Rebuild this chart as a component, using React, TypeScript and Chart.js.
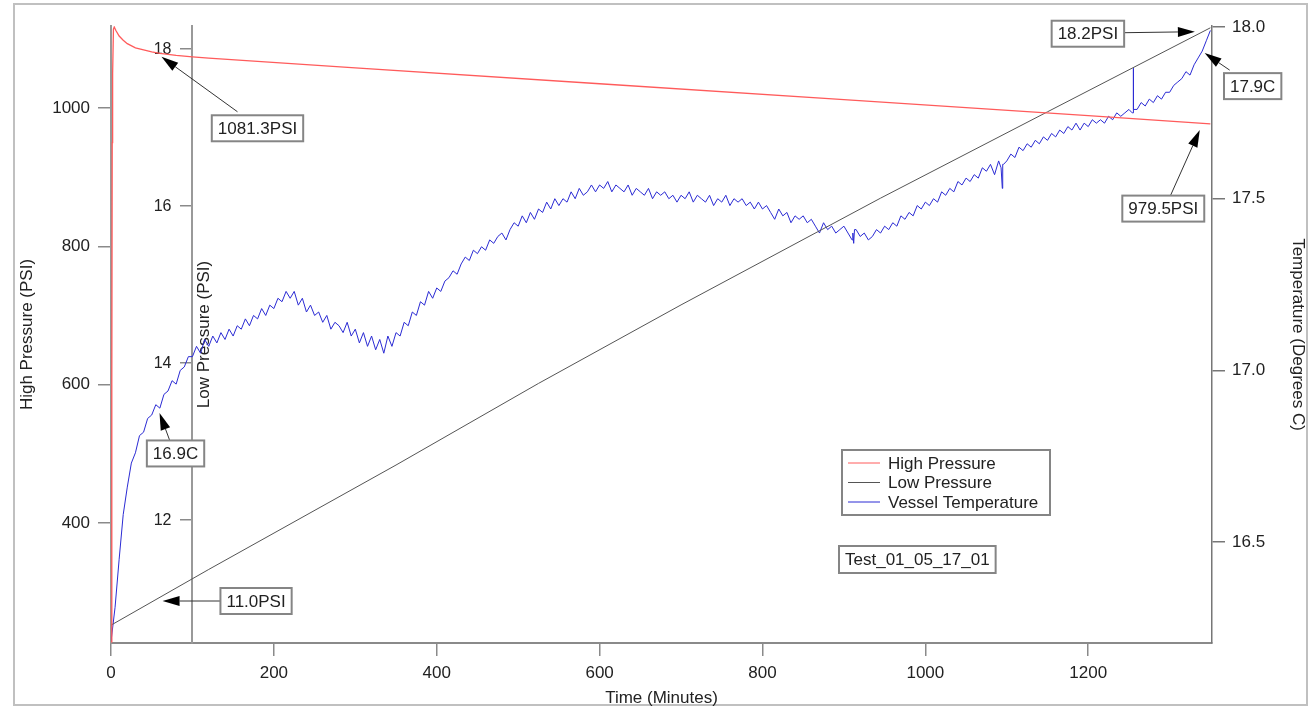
import React, { useEffect, useRef } from "react";
import { Chart, registerables } from "chart.js";

Chart.register(...registerables);

const FONT = '"Liberation Sans", Arial, Helvetica, sans-serif';

// ---- X axis (minutes)
const X_MIN = 0;
const X_MAX = 1352;
const X_STEP = 200;

// ---- High pressure (PSI), red
const highTimes = [0, 1, 1.5, 2, 3, 4, 6, 10, 15, 20, 30, 40, 50, 60, 80, 100, 120, 300, 600, 900, 1200, 1350];
const highValues = [228, 600, 950, 1050, 1114, 1117, 1112, 1104, 1098, 1093, 1087, 1084, 1081, 1079, 1076, 1074, 1072, 1058, 1035, 1012, 989, 977];

// ---- Low pressure (PSI), gray
const lowTimes = [0, 120, 350, 525, 700, 945, 1150, 1350];
const lowValues = [10.66, 11.37, 12.7, 13.74, 14.74, 16.1, 17.2, 18.27];

// ---- Vessel temperature (deg C), blue, sampled every 5 minutes from 0 to 1350
const TEMP_STEP_MIN = 5;
const tempValues = [
  16.21, 16.31, 16.45, 16.58, 16.66, 16.73, 16.76, 16.81, 16.82, 16.86,
  16.87, 16.9, 16.89, 16.93, 16.94, 16.97, 16.96, 17.0, 17.01, 17.04,
  17.04, 17.07, 17.05, 17.09, 17.07, 17.1, 17.08, 17.11, 17.09, 17.12,
  17.1, 17.13, 17.12, 17.15, 17.13, 17.16, 17.15, 17.18, 17.16, 17.19,
  17.18, 17.21, 17.2, 17.23, 17.21, 17.23, 17.19, 17.21, 17.17, 17.19,
  17.16, 17.17, 17.14, 17.16, 17.12, 17.14, 17.13, 17.11, 17.14, 17.1,
  17.12, 17.08, 17.11, 17.07, 17.1, 17.06, 17.09, 17.05, 17.1, 17.07,
  17.11, 17.1, 17.14, 17.13, 17.17, 17.16, 17.2, 17.19, 17.23, 17.21,
  17.24, 17.23, 17.26, 17.27, 17.29, 17.28, 17.31, 17.33, 17.32, 17.35,
  17.34, 17.36, 17.35, 17.38, 17.37, 17.39, 17.4, 17.38, 17.41, 17.43,
  17.42, 17.45, 17.43, 17.46, 17.44, 17.47, 17.46, 17.49, 17.47, 17.5,
  17.48, 17.5, 17.49, 17.52, 17.5, 17.53, 17.51, 17.52, 17.54, 17.52,
  17.54, 17.53, 17.55, 17.52, 17.54, 17.53, 17.52, 17.54, 17.51, 17.53,
  17.52, 17.51, 17.53, 17.5, 17.52, 17.51, 17.52, 17.5, 17.51, 17.49,
  17.51, 17.5, 17.52, 17.49, 17.51, 17.5, 17.49, 17.51, 17.48, 17.5,
  17.49, 17.51, 17.48, 17.5, 17.49, 17.5, 17.48, 17.49, 17.47, 17.49,
  17.47, 17.48, 17.46, 17.44, 17.47, 17.45, 17.46, 17.43, 17.45, 17.44,
  17.45, 17.43, 17.44, 17.42, 17.4, 17.43, 17.41, 17.42, 17.4, 17.41,
  17.42, 17.4, 17.38, 17.41, 17.39, 17.4, 17.38, 17.39, 17.41, 17.4,
  17.42, 17.41, 17.43, 17.42, 17.45, 17.44, 17.46, 17.45, 17.48, 17.47,
  17.49, 17.48, 17.5, 17.49, 17.52, 17.51, 17.53, 17.52, 17.55, 17.54,
  17.56, 17.55, 17.57, 17.56, 17.59, 17.58, 17.6, 17.57, 17.61, 17.6,
  17.61, 17.63, 17.62, 17.65, 17.64, 17.66, 17.65, 17.67, 17.66, 17.68,
  17.67, 17.69, 17.68, 17.7, 17.69, 17.71, 17.7, 17.72, 17.7, 17.72,
  17.71, 17.73, 17.72, 17.73, 17.72, 17.74, 17.73, 17.75, 17.74, 17.75,
  17.76, 17.75, 17.76, 17.78, 17.77, 17.79, 17.78, 17.8, 17.79, 17.81,
  17.81, 17.83, 17.84, 17.85, 17.87, 17.86, 17.89, 17.91, 17.93, 17.96,
  17.99,
];
// short spikes / dips in the temperature trace
const tempEventTimes = [911, 912, 913, 1093, 1094.5, 1096, 1254, 1255, 1256];
const tempEventValues = [17.4, 17.37, 17.41, 17.59, 17.53, 17.6, 17.75, 17.88, 17.76];

// ---- axis ranges and ticks
const HIGH_MIN = 226.5, HIGH_MAX = 1118.5, HIGH_STEP = 200;
const LOW_MIN = 10.433, LOW_MAX = 18.293, LOW_STEP = 2, LOW_AXIS_AT_MIN = 100;
const TEMP_MIN = 16.206, TEMP_MAX = 18.003, TEMP_STEP = 0.5;

// ---- series labels & colours
const seriesLabels = ["High Pressure", "Low Pressure", "Vessel Temperature"];
const seriesColors = ["#ff5b5b", "#555555", "#2b2bd4"];

// ---- annotations: tip in data coordinates; box and tail offsets in px from the tip
const annotationTexts = ["1081.3PSI", "18.2PSI", "17.9C", "979.5PSI", "16.9C", "11.0PSI"];
const annotationAxes = ["yHigh", "yLow", "yTemp", "yHigh", "yTemp", "yLow"];
const annotationTipX = [62, 1331, 1343, 1337, 59.6, 63.3];
const annotationTipY = [1074, 18.22, 17.924, 968, 16.876, 10.968];
const annotationBoxOffset = [[96, 71.5], [-107, 2], [48, 33], [-36.5, 78.5], [16, 40.5], [93.5, 0]];
const annotationTailOffset = [[76, 55], [-72, 1], [25, 17], [-30, 67], [10, 27], [59, 0]];

const TEST_LABEL = "Test_01_05_17_01";

function drawArrow(ctx: CanvasRenderingContext2D, x1: number, y1: number, x2: number, y2: number) {
  const ang = Math.atan2(y2 - y1, x2 - x1);
  const L = 17, W = 5;
  const bx = x2 - L * Math.cos(ang);
  const by = y2 - L * Math.sin(ang);
  ctx.strokeStyle = "#333";
  ctx.lineWidth = 1;
  ctx.beginPath();
  ctx.moveTo(x1, y1);
  ctx.lineTo(bx, by);
  ctx.stroke();
  ctx.fillStyle = "#000";
  ctx.beginPath();
  ctx.moveTo(x2, y2);
  ctx.lineTo(bx + W * Math.sin(ang), by - W * Math.cos(ang));
  ctx.lineTo(bx - W * Math.sin(ang), by + W * Math.cos(ang));
  ctx.closePath();
  ctx.fill();
}

function drawBoxText(ctx: CanvasRenderingContext2D, text: string, cx: number, cy: number) {
  ctx.font = `17px ${FONT}`;
  const w = ctx.measureText(text).width + 12;
  const h = 26;
  ctx.fillStyle = "#fff";
  ctx.fillRect(cx - w / 2, cy - h / 2, w, h);
  ctx.strokeStyle = "#858585";
  ctx.lineWidth = 2;
  ctx.strokeRect(cx - w / 2, cy - h / 2, w, h);
  ctx.fillStyle = "#222";
  ctx.textAlign = "center";
  ctx.textBaseline = "middle";
  ctx.fillText(text, cx, cy + 1);
}

const decorPlugin = {
  id: "decor",
  beforeDraw(chart: any) {
    const ctx = chart.ctx;
    ctx.save();
    ctx.fillStyle = "#fff";
    ctx.fillRect(0, 0, chart.width, chart.height);
    ctx.strokeStyle = "#c0c0c0";
    ctx.lineWidth = 2;
    ctx.strokeRect(14, 4, 1293, 701);
    ctx.restore();
  },
  beforeDatasetsDraw(chart: any) {
    const ctx = chart.ctx;
    const area = chart.chartArea;
    const axisX = chart.scales.x.getPixelForValue(LOW_AXIS_AT_MIN);
    const yLow = chart.scales.yLow;
    ctx.save();
    // low-pressure tick labels (left of the inner axis)
    ctx.font = `16px ${FONT}`;
    ctx.fillStyle = "#222";
    ctx.textAlign = "right";
    ctx.textBaseline = "middle";
    yLow.ticks.forEach((t: any) => {
      ctx.fillText(String(t.value), axisX - 21, yLow.getPixelForValue(t.value) + 1);
    });
    // low-pressure title (right of the inner axis, reading upward)
    const y = (area.top + area.bottom) / 2;
    ctx.translate(axisX + 12, y);
    ctx.rotate(-Math.PI / 2);
    ctx.font = `17px ${FONT}`;
    ctx.textAlign = "center";
    ctx.fillText("Low Pressure (PSI)", 0, 0);
    ctx.restore();
  },
  afterDraw(chart: any) {
    const ctx = chart.ctx;
    const area = chart.chartArea;
    ctx.save();
    // legend
    const lx = area.left + 731, ly = 450, lw = 208, lh = 65;
    ctx.fillStyle = "#fff";
    ctx.fillRect(lx, ly, lw, lh);
    ctx.strokeStyle = "#858585";
    ctx.lineWidth = 2;
    ctx.strokeRect(lx, ly, lw, lh);
    ctx.font = `17px ${FONT}`;
    ctx.textAlign = "left";
    ctx.textBaseline = "middle";
    seriesLabels.forEach((lab, i) => {
      const yy = ly + 13 + i * 19.5;
      ctx.strokeStyle = seriesColors[i];
      ctx.lineWidth = 1;
      ctx.beginPath();
      ctx.moveTo(lx + 6, yy);
      ctx.lineTo(lx + 38, yy);
      ctx.stroke();
      ctx.fillStyle = "#222";
      ctx.fillText(lab, lx + 46, yy + 1);
    });
    // test label
    ctx.font = `17px ${FONT}`;
    const tw = ctx.measureText(TEST_LABEL).width + 12;
    const tx = area.left + 728, ty = 546;
    ctx.fillStyle = "#fff";
    ctx.fillRect(tx, ty, tw, 27);
    ctx.strokeStyle = "#858585";
    ctx.lineWidth = 2;
    ctx.strokeRect(tx, ty, tw, 27);
    ctx.fillStyle = "#222";
    ctx.textAlign = "left";
    ctx.textBaseline = "middle";
    ctx.fillText(TEST_LABEL, tx + 6, ty + 14);
    // annotations
    annotationTexts.forEach((text, i) => {
      const px = chart.scales.x.getPixelForValue(annotationTipX[i]);
      const py = chart.scales[annotationAxes[i]].getPixelForValue(annotationTipY[i]);
      const [tdx, tdy] = annotationTailOffset[i];
      drawArrow(ctx, px + tdx, py + tdy, px, py);
      const [bdx, bdy] = annotationBoxOffset[i];
      drawBoxText(ctx, text, px + bdx, py + bdy);
    });
    ctx.restore();
  },
};

export default function App() {
  const ref = useRef<HTMLCanvasElement>(null);

  useEffect(() => {
    if (!ref.current) return;
    const highPts = highTimes.map((t, i) => ({ x: t, y: highValues[i] }));
    const lowPts = lowTimes.map((t, i) => ({ x: t, y: lowValues[i] }));
    const tempPts = tempValues
      .map((v, i) => ({ x: i * TEMP_STEP_MIN, y: v }))
      .concat(tempEventTimes.map((t, i) => ({ x: t, y: tempEventValues[i] })))
      .sort((a, b) => a.x - b.x);

    const tickFont = { size: 17, family: FONT };
    const titleFont = { size: 17, family: FONT, lineHeight: 1 };
    const plain = (v: any) => String(v);

    const chart = new Chart(ref.current, {
      type: "line",
      data: {
        datasets: [
          { label: seriesLabels[0], data: highPts, yAxisID: "yHigh", borderColor: seriesColors[0], borderWidth: 1.3, pointRadius: 0, tension: 0 },
          { label: seriesLabels[1], data: lowPts, yAxisID: "yLow", borderColor: seriesColors[1], borderWidth: 1, pointRadius: 0, tension: 0 },
          { label: seriesLabels[2], data: tempPts, yAxisID: "yTemp", borderColor: seriesColors[2], borderWidth: 1, pointRadius: 0, tension: 0 },
        ],
      },
      options: {
        animation: false,
        responsive: false,
        events: [],
        layout: { padding: { top: 26, left: 0, right: 0, bottom: 0 } },
        plugins: { legend: { display: false }, tooltip: { enabled: false }, title: { display: false } },
        scales: {
          x: {
            type: "linear",
            position: "bottom",
            min: X_MIN,
            max: X_MAX,
            ticks: { stepSize: X_STEP, includeBounds: false, font: tickFont, color: "#222", padding: 7, maxRotation: 0, autoSkip: false, callback: plain },
            grid: { drawOnChartArea: false, drawTicks: true, tickLength: 13, color: "#8a8a8a", lineWidth: 1.5 },
            border: { display: true, color: "#8a8a8a", width: 2 },
            title: { display: true, text: "Time (Minutes)", font: titleFont, color: "#222", padding: { top: 0, bottom: 0.5 } },
            afterFit: (s: any) => { s.height = 64; },
          },
          yHigh: {
            type: "linear",
            position: "left",
            min: HIGH_MIN,
            max: HIGH_MAX,
            ticks: { stepSize: HIGH_STEP, includeBounds: false, font: tickFont, color: "#222", padding: 8, callback: plain },
            grid: { drawOnChartArea: false, drawTicks: true, tickLength: 13, color: "#8a8a8a", lineWidth: 1.5 },
            border: { display: true, color: "#999", width: 2 },
            title: { display: true, text: "High Pressure (PSI)", font: titleFont, color: "#222", padding: { top: 18.5, bottom: 0 } },
            afterFit: (s: any) => { s.width = 111; },
          },
          yLow: {
            type: "linear",
            position: { x: LOW_AXIS_AT_MIN },
            min: LOW_MIN,
            max: LOW_MAX,
            ticks: { stepSize: LOW_STEP, includeBounds: false, display: false },
            grid: { drawOnChartArea: false, drawTicks: true, tickLength: 11, color: "#8a8a8a", lineWidth: 1.5 },
            border: { display: true, color: "#999", width: 2 },
            title: { display: false },
          },
          yTemp: {
            type: "linear",
            position: "right",
            min: TEMP_MIN,
            max: TEMP_MAX,
            ticks: { stepSize: TEMP_STEP, includeBounds: false, font: tickFont, color: "#222", padding: 7, callback: (v: any) => Number(v).toFixed(1) },
            grid: { drawOnChartArea: false, drawTicks: true, tickLength: 13, color: "#777", lineWidth: 1.5 },
            border: { display: true, color: "#777", width: 1.5 },
            title: { display: true, text: "Temperature (Degrees C)", font: titleFont, color: "#222", padding: { top: 2.5, bottom: 0 } },
            afterFit: (s: any) => { s.width = 97; },
          },
        },
      } as any,
      plugins: [decorPlugin],
    });
    return () => chart.destroy();
  }, []);

  return (
    <div style={{ position: "fixed", left: 0, top: 0, width: 1309, height: 707, background: "#fff" }}>
      <canvas ref={ref} width={1309} height={707} style={{ display: "block" }} />
    </div>
  );
}
